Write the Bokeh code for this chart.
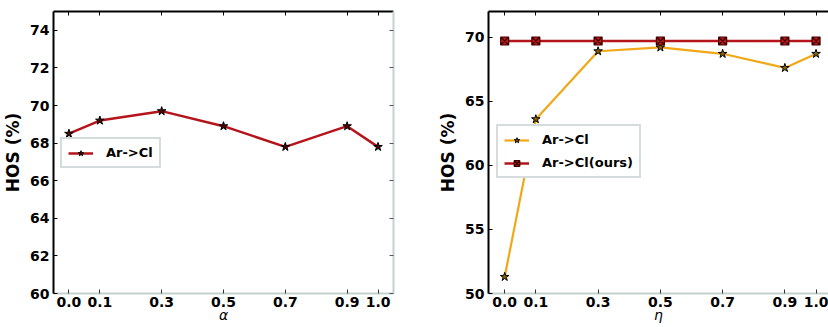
from bokeh.plotting import figure
from bokeh.layouts import row
from bokeh.models import Range1d, FixedTicker, LinearAxis, Legend, LegendItem
from bokeh.embed import file_html
from bokeh.resources import INLINE

# ---- data ----
x_vals = [0.0, 0.1, 0.3, 0.5, 0.7, 0.9, 1.0]
x_tick_labels = ["0.0", "0.1", "0.3", "0.5", "0.7", "0.9", "1.0"]

alpha_hos = [68.5, 69.2, 69.7, 68.9, 67.8, 68.9, 67.8]
eta_hos = [51.3, 63.6, 68.9, 69.2, 68.7, 67.6, 68.7]
eta_ours = [69.7, 69.7, 69.7, 69.7, 69.7, 69.7, 69.7]

left_yticks = [60, 62, 64, 66, 68, 70, 72, 74]
right_yticks = [50, 55, 60, 65, 70]

series_label = "Ar->Cl"
ours_label = "Ar->Cl(ours)"

RED = "#b5141b"
ORANGE = "#f2a716"
SPINE_GRAY = "#c3d1d2"
LEG_BORDER = "#a9babd"
FONT = "DejaVu Sans"


def style_axes(p, yticks, xlabel, show_right=True):
    overrides = {x: t for x, t in zip(x_vals, x_tick_labels)}
    p.outline_line_color = None
    p.grid.visible = False

    xa = p.xaxis[0]
    xa.ticker = FixedTicker(ticks=x_vals)
    xa.major_label_overrides = overrides
    xa.axis_line_color = SPINE_GRAY
    xa.axis_line_width = 2
    xa.major_tick_in = 4
    xa.major_tick_out = 0
    xa.major_tick_line_color = "#333333"
    xa.minor_tick_line_color = None
    xa.major_label_text_font = FONT
    xa.major_label_text_font_style = "bold"
    xa.major_label_text_font_size = "14px"
    xa.major_label_text_color = "black"
    xa.major_label_standoff = 3
    xa.axis_label = xlabel
    xa.axis_label_text_font = FONT
    xa.axis_label_text_font_style = "italic"
    xa.axis_label_text_font_size = "14px"
    xa.axis_label_text_color = "black"
    xa.axis_label_standoff = -3

    ya = p.yaxis[0]
    ya.ticker = FixedTicker(ticks=yticks)
    ya.axis_line_color = "black"
    ya.axis_line_width = 2
    ya.major_tick_in = 4
    ya.major_tick_out = 0
    ya.major_tick_line_color = "black"
    ya.minor_tick_line_color = None
    ya.major_label_text_font = FONT
    ya.major_label_text_font_style = "bold"
    ya.major_label_text_font_size = "14px"
    ya.major_label_text_color = "black"
    ya.major_label_standoff = 4
    ya.axis_label = "HOS (%)"
    ya.axis_label_text_font = FONT
    ya.axis_label_text_font_style = "bold"
    ya.axis_label_text_font_size = "17px"
    ya.axis_label_text_color = "black"
    ya.axis_label_standoff = 4

    top = LinearAxis(ticker=FixedTicker(ticks=x_vals), axis_line_color="black",
                     axis_line_width=2, major_tick_in=4, major_tick_out=0,
                     major_tick_line_color="black", minor_tick_line_color=None,
                     major_label_overrides={x: "" for x in x_vals},
                     major_label_standoff=0)
    p.add_layout(top, "above")
    if show_right:
        right = LinearAxis(ticker=FixedTicker(ticks=yticks), axis_line_color=SPINE_GRAY,
                           axis_line_width=2, major_tick_in=4, major_tick_out=0,
                           major_tick_line_color="#555555", minor_tick_line_color=None,
                           major_label_overrides={y: "" for y in yticks},
                           major_label_standoff=0)
        p.add_layout(right, "right")


def style_legend(leg):
    leg.border_line_color = LEG_BORDER
    leg.border_line_width = 2
    leg.background_fill_color = "white"
    leg.background_fill_alpha = 1
    leg.label_text_font = FONT
    leg.label_text_font_style = "bold"
    leg.label_text_font_size = "13px"
    leg.label_text_color = "black"
    leg.label_height = 14
    leg.glyph_height = 14
    leg.glyph_width = 25
    leg.label_standoff = 13
    leg.padding = 6
    leg.spacing = 8
    leg.margin = 0


# ---- left figure ----
p1 = figure(width=420, height=327, output_backend="svg", toolbar_location=None,
            x_range=Range1d(-0.05, 1.05), y_range=Range1d(60, 75),
            min_border_left=51, min_border_right=27, min_border_top=11, min_border_bottom=33)
style_axes(p1, left_yticks, "α", show_right=True)
l1 = p1.line(x_vals, alpha_hos, line_color=RED, line_width=2.5)
s1 = p1.scatter(x_vals, alpha_hos, marker="star", size=9, fill_color="#4a0808",
                line_color="black", line_width=1)
leg1 = Legend(items=[LegendItem(label=series_label, renderers=[l1, s1])],
              location=(7, 125))
style_legend(leg1)
p1.add_layout(leg1, "center")

# ---- right figure ----
p2 = figure(width=408, height=327, output_backend="svg", toolbar_location=None,
            x_range=Range1d(-0.052, 1.04), y_range=Range1d(50, 72),
            min_border_left=68, min_border_right=0, min_border_top=9, min_border_bottom=34)
style_axes(p2, right_yticks, "η", show_right=False)
l2 = p2.line(x_vals, eta_hos, line_color=ORANGE, line_width=2.2)
s2 = p2.scatter(x_vals, eta_hos, marker="star", size=9, fill_color="#8a6000",
                line_color="black", line_width=1)
l3 = p2.line(x_vals, eta_ours, line_color=RED, line_width=2.5)
s3 = p2.scatter(x_vals, eta_ours, marker="square_x", size=8, fill_color="#c01818",
                line_color="#3a0000", line_width=1.2)
leg2 = Legend(items=[LegendItem(label=series_label, renderers=[l2, s2]),
                     LegendItem(label=ours_label, renderers=[l3, s3])],
              location=(8, 115))
style_legend(leg2)
p2.add_layout(leg2, "center")

layout = row(p1, p2, spacing=0)
open("out.html", "w").write(file_html(layout, INLINE))
